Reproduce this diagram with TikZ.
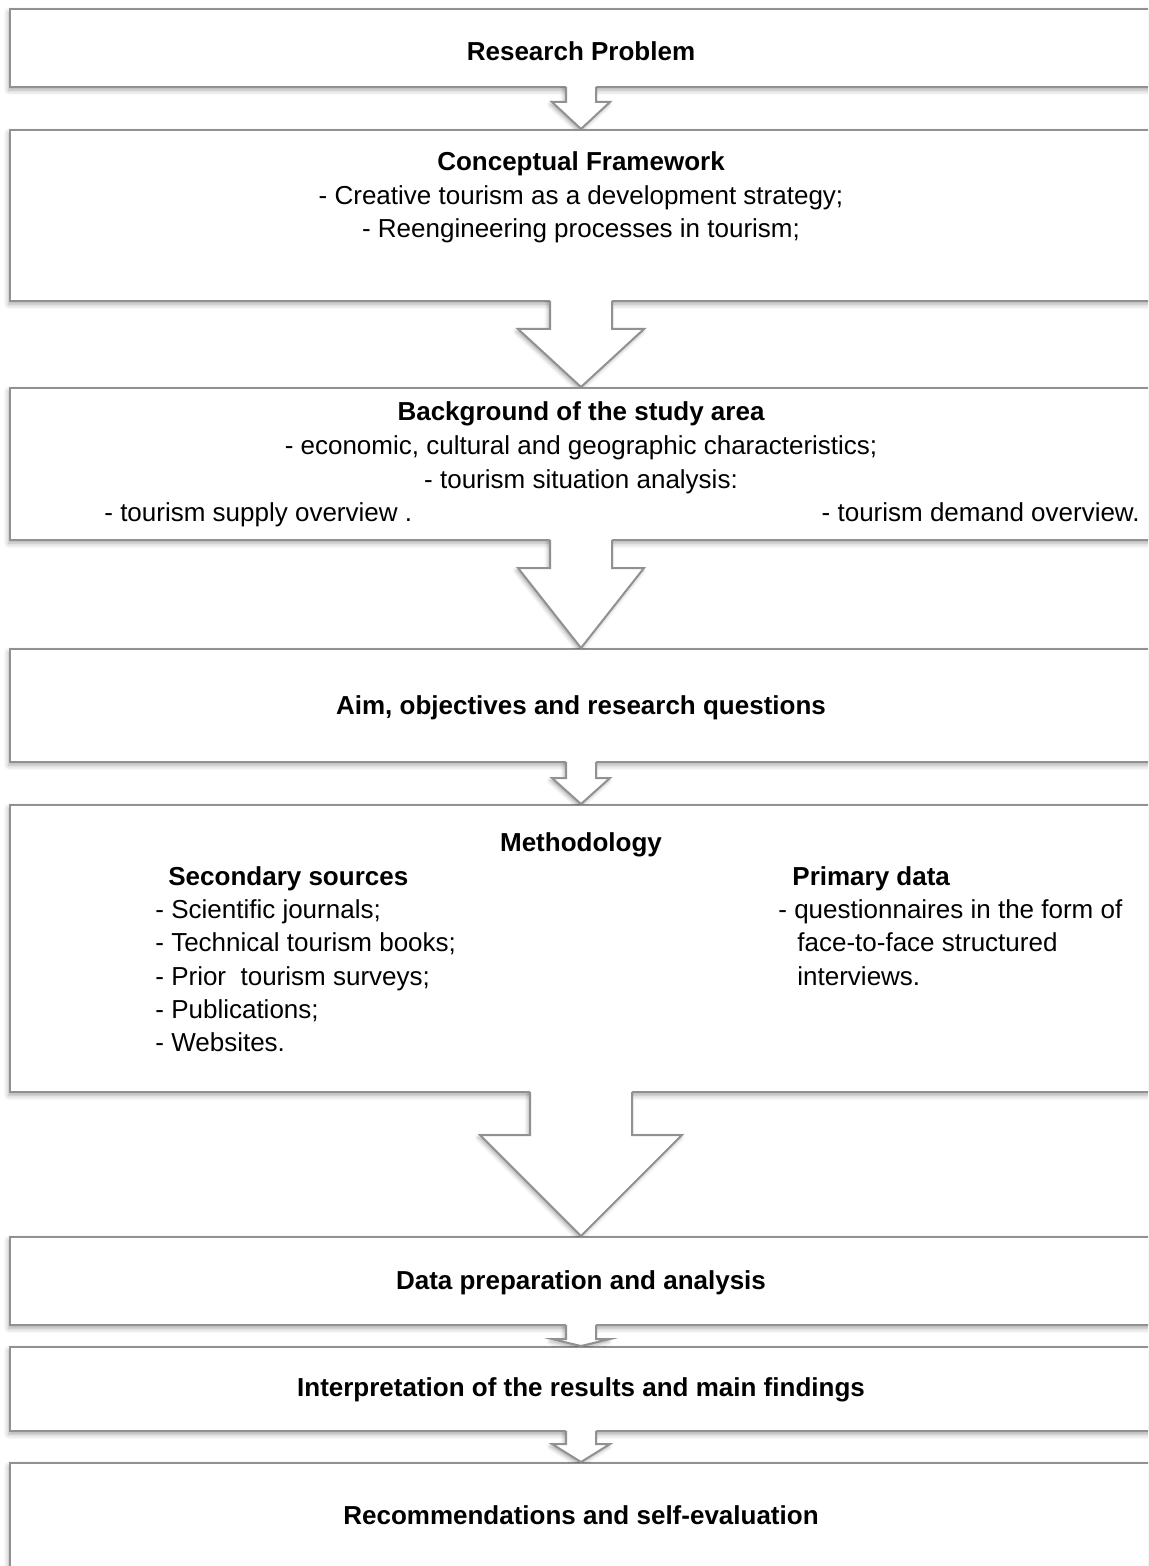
\documentclass[tikz,border=0pt]{standalone}
\usepackage{fontspec}
\setmainfont{Liberation Sans}
\usetikzlibrary{calc,shadows.blur}
\definecolor{boxline}{RGB}{145,145,145}
% block arrow from the bottom of one box to the top of the next
% #1 upper box, #2 lower box, #3 stem half width, #4 head half width, #5 stem length
\newcommand\flowarrow[5]{%
  \coordinate (#1-t) at (#1.south -| axis);
  \coordinate (#1-p) at (#2.north -| axis);
  \begin{scope}
    \clip (0,0 |- #1.south) rectangle (1148,0 |- #2.north);
    \fill[white, arrowshadow]
      ($(#1-t)+(-#3,-2)$) -- ($(#1-t)+(-#3,#5)$) -- ($(#1-t)+(-#4,#5)$) -- (#1-p)
      -- ($(#1-t)+(#4,#5)$) -- ($(#1-t)+(#3,#5)$) -- ($(#1-t)+(#3,-2)$) -- cycle;
  \end{scope}
  \fill[white]
    ($(#1-t)+(-#3,-2)$) -- ($(#1-t)+(-#3,#5)$) -- ($(#1-t)+(-#4,#5)$) -- (#1-p)
    -- ($(#1-t)+(#4,#5)$) -- ($(#1-t)+(#3,#5)$) -- ($(#1-t)+(#3,-2)$) -- cycle;
  \draw[edge, line join=miter]
    ($(#1-t)+(-#3,-1)$) -- ($(#1-t)+(-#3,#5)$) -- ($(#1-t)+(-#4,#5)$) -- (#1-p)
    -- ($(#1-t)+(#4,#5)$) -- ($(#1-t)+(#3,#5)$) -- ($(#1-t)+(#3,-1)$);
}
\begin{document}
\begin{tikzpicture}[x=0.5pt,y=-0.5pt,
  softshadow/.style={blur shadow={shadow xshift=-0.6pt, shadow yshift=-1.6pt,
      shadow blur radius=2.5pt, shadow opacity=35}},
  arrowshadow/.style={blur shadow={shadow xshift=-0.8pt, shadow yshift=-1.2pt,
      shadow blur radius=2pt, shadow opacity=35}},
  box/.style={draw=boxline, line width=1pt, fill=white, minimum width=580pt,
      inner sep=0pt, softshadow},
  edge/.style={draw=boxline, line width=1pt},
  txt/.style={inner sep=0pt, anchor=base, font=\fontsize{13}{16}\selectfont},
  head/.style={txt, font=\fontsize{13}{16}\selectfont\bfseries}]
\path[use as bounding box] (0,0) rectangle (1148,1566);
\clip (0,0) rectangle (1148,1566);
\coordinate (axis) at (581,0);

% boxes
\node[box, minimum height=39pt]   (b1) at (590,48) {};
\node[box, minimum height=85.5pt] (b2) at (590,215.5) {};
\node[box, minimum height=76pt]   (b3) at (590,464) {};
\node[box, minimum height=56.5pt] (b4) at (590,705.5) {};
\node[box, minimum height=143.5pt](b5) at (590,948.5) {};
\node[box, minimum height=44pt]   (b6) at (590,1281) {};
\node[box, minimum height=42pt]   (b7) at (590,1389) {};
\node[box, minimum height=68.5pt] (b8) at (590,1531.5) {};

% arrows
\flowarrow{b1}{b2}{15}{29}{14}
\flowarrow{b2}{b3}{31}{63}{27}
\flowarrow{b3}{b4}{31}{63}{27}
\flowarrow{b4}{b5}{15}{29}{15}
\flowarrow{b5}{b6}{51}{101}{42}
\flowarrow{b6}{b7}{15}{29}{13}
\flowarrow{b7}{b8}{15}{29}{12}

% texts
\node[head] (t1) at (581,61) {Research Problem};

\node[head] (t2) at (581,171) {Conceptual Framework};
\node[txt]  (t2a) at (581,205) {- Creative tourism as a development strategy;};
\node[txt]  (t2b) at (581,238) {- Reengineering processes in tourism;};

\node[head] (t3) at (581,421) {Background of the study area};
\node[txt]  (t3a) at (581,455) {- economic, cultural and geographic characteristics;};
\node[txt]  (t3b) at (581,488) {- tourism situation analysis:};
\node[txt, anchor=base west] (t3c) at (104,522) {- tourism supply overview .};
\node[txt, anchor=base east] (t3d) at (1140,522) {- tourism demand overview.};

\node[head] (t4) at (581,714) {Aim, objectives and research questions};

\node[head] (t5) at (581,851) {Methodology};
\node[head, anchor=base west] (t5l) at (168,885) {Secondary sources};
\node[txt, anchor=base west] (t5l1) at (155,918) {- Scientific journals;};
\node[txt, anchor=base west] (t5l2) at (155,951) {- Technical tourism books;};
\node[txt, anchor=base west] (t5l3) at (155,985) {- Prior\ \ tourism surveys;};
\node[txt, anchor=base west] (t5l4) at (155,1018) {- Publications;};
\node[txt, anchor=base west] (t5l5) at (155,1051) {- Websites.};
\node[head, anchor=base west] (t5r) at (792,885) {Primary data};
\node[txt, anchor=base west] (t5r1) at (778,918) {- questionnaires in the form of};
\node[txt, anchor=base west] (t5r2) at (797,951) {face-to-face structured};
\node[txt, anchor=base west] (t5r3) at (797,985) {interviews.};

\node[head] (t6) at (581,1289) {Data preparation and analysis};
\node[head] (t7) at (581,1396) {Interpretation of the results and main findings};
\node[head] (t8) at (581,1524) {Recommendations and self-evaluation};
\end{tikzpicture}
\end{document}
